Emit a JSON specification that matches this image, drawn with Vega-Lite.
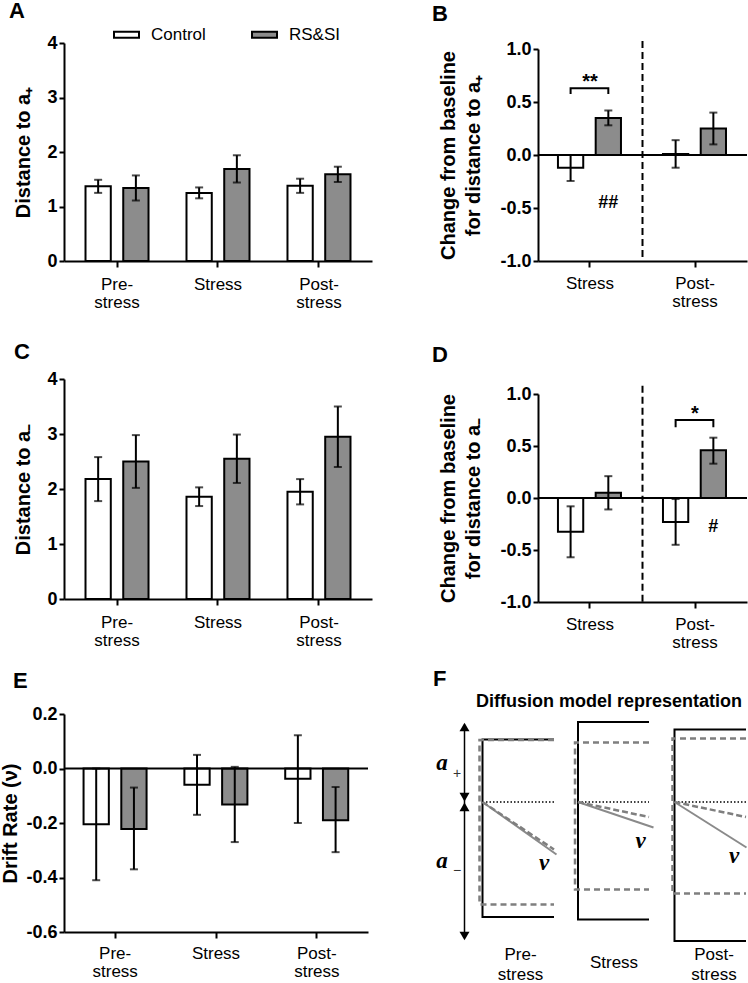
{
  "$schema": "https://vega.github.io/schema/vega-lite/v6.json",
  "padding": {"left": 0, "top": 0, "right": 0, "bottom": 0},
  "background": "white",
  "config": {
    "font": "Liberation Sans",
    "view": {"stroke": null},
    "axis": {"domainColor": "black", "domainWidth": 2, "tickColor": "black", "tickWidth": 2, "labelColor": "black", "titleColor": "black", "labelFont": "Liberation Sans", "titleFont": "Liberation Sans", "grid": false},
    "axisY": {"labelFontSize": 18, "labelFontWeight": "bold", "tickSize": 5, "labelPadding": 2, "titleFontSize": 20, "titleFontWeight": "bold"},
    "axisX": {"labelFontSize": 17, "labelFontWeight": "normal", "tickSize": 6, "labelLineHeight": 18, "labelAngle": 0},
    "title": {"anchor": "start", "frame": "group", "fontSize": 22, "fontWeight": "bold", "color": "black", "font": "Liberation Sans", "baseline": "alphabetic"}
  },
  "datasets": {
    "A": [
      {"cond": "Pre-stress", "group": "Control", "mean": 1.37, "lo": 1.25, "hi": 1.49},
      {"cond": "Pre-stress", "group": "RS&SI", "mean": 1.34, "lo": 1.11, "hi": 1.57},
      {"cond": "Stress", "group": "Control", "mean": 1.25, "lo": 1.15, "hi": 1.35},
      {"cond": "Stress", "group": "RS&SI", "mean": 1.69, "lo": 1.44, "hi": 1.94},
      {"cond": "Post-stress", "group": "Control", "mean": 1.38, "lo": 1.25, "hi": 1.51},
      {"cond": "Post-stress", "group": "RS&SI", "mean": 1.59, "lo": 1.45, "hi": 1.73}
    ],
    "C": [
      {"cond": "Pre-stress", "group": "Control", "mean": 2.18, "lo": 1.78, "hi": 2.58},
      {"cond": "Pre-stress", "group": "RS&SI", "mean": 2.5, "lo": 2.02, "hi": 2.98},
      {"cond": "Stress", "group": "Control", "mean": 1.86, "lo": 1.69, "hi": 2.03},
      {"cond": "Stress", "group": "RS&SI", "mean": 2.55, "lo": 2.11, "hi": 2.99},
      {"cond": "Post-stress", "group": "Control", "mean": 1.95, "lo": 1.72, "hi": 2.18},
      {"cond": "Post-stress", "group": "RS&SI", "mean": 2.95, "lo": 2.4, "hi": 3.5}
    ],
    "E": [
      {"cond": "Pre-stress", "group": "Control", "mean": -0.205, "lo": -0.41, "hi": 0.0},
      {"cond": "Pre-stress", "group": "RS&SI", "mean": -0.222, "lo": -0.37, "hi": -0.07},
      {"cond": "Stress", "group": "Control", "mean": -0.06, "lo": -0.17, "hi": 0.05},
      {"cond": "Stress", "group": "RS&SI", "mean": -0.132, "lo": -0.27, "hi": 0.006},
      {"cond": "Post-stress", "group": "Control", "mean": -0.038, "lo": -0.2, "hi": 0.122},
      {"cond": "Post-stress", "group": "RS&SI", "mean": -0.19, "lo": -0.307, "hi": -0.068}
    ],
    "B": [
      {"cond": "Stress", "group": "Control", "mean": -0.12, "lo": -0.245, "hi": 0.0},
      {"cond": "Stress", "group": "RS&SI", "mean": 0.35, "lo": 0.28, "hi": 0.42},
      {"cond": "Post-stress", "group": "Control", "mean": 0.01, "lo": -0.12, "hi": 0.14},
      {"cond": "Post-stress", "group": "RS&SI", "mean": 0.25, "lo": 0.1, "hi": 0.4}
    ],
    "D": [
      {"cond": "Stress", "group": "Control", "mean": -0.325, "lo": -0.57, "hi": -0.08},
      {"cond": "Stress", "group": "RS&SI", "mean": 0.05, "lo": -0.11, "hi": 0.21},
      {"cond": "Post-stress", "group": "Control", "mean": -0.23, "lo": -0.45, "hi": -0.01},
      {"cond": "Post-stress", "group": "RS&SI", "mean": 0.46, "lo": 0.33, "hi": 0.58}
    ],
    "B_bracket": [
      {"cond": "Stress", "group": "Control", "y": 0.575, "ord": 1},
      {"cond": "Stress", "group": "Control", "y": 0.63, "ord": 2},
      {"cond": "Stress", "group": "RS&SI", "y": 0.63, "ord": 3},
      {"cond": "Stress", "group": "RS&SI", "y": 0.575, "ord": 4}
    ],
    "D_bracket": [
      {"cond": "Post-stress", "group": "Control", "y": 0.68, "ord": 1},
      {"cond": "Post-stress", "group": "Control", "y": 0.75, "ord": 2},
      {"cond": "Post-stress", "group": "RS&SI", "y": 0.75, "ord": 3},
      {"cond": "Post-stress", "group": "RS&SI", "y": 0.68, "ord": 4}
    ],
    "B_star": [{"cond": "Stress", "y": 0.63, "label": "**"}],
    "B_hash": [{"cond": "Stress", "group": "RS&SI", "y": -0.45, "label": "##"}],
    "D_star": [{"cond": "Post-stress", "y": 0.75, "label": "*"}],
    "D_hash": [{"cond": "Post-stress", "group": "RS&SI", "y": -0.28, "label": "#"}],
    "F_lines": [
      {"id": "pre_k", "style": "black", "ord": 1, "x": 0.32, "y": 1.25},
      {"id": "pre_k", "style": "black", "ord": 2, "x": -1.11, "y": 1.25},
      {"id": "pre_k", "style": "black", "ord": 3, "x": -1.11, "y": -2.3},
      {"id": "pre_k", "style": "black", "ord": 4, "x": 0.32, "y": -2.3},
      {"id": "str_k", "style": "black", "ord": 1, "x": 2.22, "y": 1.6},
      {"id": "str_k", "style": "black", "ord": 2, "x": 0.8, "y": 1.6},
      {"id": "str_k", "style": "black", "ord": 3, "x": 0.8, "y": -2.35},
      {"id": "str_k", "style": "black", "ord": 4, "x": 2.22, "y": -2.35},
      {"id": "post_k", "style": "black", "ord": 1, "x": 4.16, "y": 1.45},
      {"id": "post_k", "style": "black", "ord": 2, "x": 2.73, "y": 1.45},
      {"id": "post_k", "style": "black", "ord": 3, "x": 2.73, "y": -2.78},
      {"id": "post_k", "style": "black", "ord": 4, "x": 4.16, "y": -2.78},
      {"id": "pre_g", "style": "graydash", "ord": 1, "x": 0.32, "y": 1.24},
      {"id": "pre_g", "style": "graydash", "ord": 2, "x": -1.17, "y": 1.24},
      {"id": "pre_g", "style": "graydash", "ord": 3, "x": -1.17, "y": -2.05},
      {"id": "pre_g", "style": "graydash", "ord": 4, "x": 0.32, "y": -2.05},
      {"id": "str_g", "style": "graydash", "ord": 1, "x": 2.22, "y": 1.19},
      {"id": "str_g", "style": "graydash", "ord": 2, "x": 0.74, "y": 1.19},
      {"id": "str_g", "style": "graydash", "ord": 3, "x": 0.74, "y": -1.75},
      {"id": "str_g", "style": "graydash", "ord": 4, "x": 2.22, "y": -1.75},
      {"id": "post_g", "style": "graydash", "ord": 1, "x": 4.16, "y": 1.27},
      {"id": "post_g", "style": "graydash", "ord": 2, "x": 2.69, "y": 1.27},
      {"id": "post_g", "style": "graydash", "ord": 3, "x": 2.69, "y": -1.83},
      {"id": "post_g", "style": "graydash", "ord": 4, "x": 4.16, "y": -1.83},
      {"id": "pre_d", "style": "dotted", "ord": 1, "x": -1.11, "y": 0},
      {"id": "pre_d", "style": "dotted", "ord": 2, "x": 0.32, "y": 0},
      {"id": "str_d", "style": "dotted", "ord": 1, "x": 0.8, "y": 0},
      {"id": "str_d", "style": "dotted", "ord": 2, "x": 2.22, "y": 0},
      {"id": "post_d", "style": "dotted", "ord": 1, "x": 2.73, "y": 0},
      {"id": "post_d", "style": "dotted", "ord": 2, "x": 4.16, "y": 0},
      {"id": "pre_s", "style": "graysolid", "ord": 1, "x": -1.11, "y": 0},
      {"id": "pre_s", "style": "graysolid", "ord": 2, "x": 0.37, "y": -1.05},
      {"id": "str_s", "style": "graysolid", "ord": 1, "x": 0.8, "y": 0},
      {"id": "str_s", "style": "graysolid", "ord": 2, "x": 2.31, "y": -0.51},
      {"id": "post_s", "style": "graysolid", "ord": 1, "x": 2.73, "y": 0},
      {"id": "post_s", "style": "graysolid", "ord": 2, "x": 4.17, "y": -0.91},
      {"id": "pre_v", "style": "driftdash", "ord": 1, "x": -1.11, "y": 0},
      {"id": "pre_v", "style": "driftdash", "ord": 2, "x": 0.32, "y": -0.95},
      {"id": "str_v", "style": "driftdash", "ord": 1, "x": 0.8, "y": 0},
      {"id": "str_v", "style": "driftdash", "ord": 2, "x": 2.22, "y": -0.3},
      {"id": "post_v", "style": "driftdash", "ord": 1, "x": 2.73, "y": 0},
      {"id": "post_v", "style": "driftdash", "ord": 2, "x": 4.16, "y": -0.3},
      {"id": "arrow", "style": "arrow", "ord": 1, "x": -1.47, "y": 1.55},
      {"id": "arrow", "style": "arrow", "ord": 2, "x": -1.47, "y": -2.72}
    ],
    "F_heads": [
      {"x": -1.47, "y": 1.5, "shape": "triangle-up"},
      {"x": -1.47, "y": 0.096, "shape": "triangle-down"},
      {"x": -1.47, "y": -0.096, "shape": "triangle-up"},
      {"x": -1.47, "y": -2.68, "shape": "triangle-down"}
    ],
    "F_text": [
      {"kind": "serif", "x": -1.92, "y": 0.78, "label": "a"},
      {"kind": "serif", "x": -1.92, "y": -1.18, "label": "a"},
      {"kind": "sign", "x": -1.62, "y": 0.56, "label": "+"},
      {"kind": "sign", "x": -1.62, "y": -1.38, "label": "\u2212"},
      {"kind": "serif", "x": 0.12, "y": -1.21, "label": "v"},
      {"kind": "serif", "x": 2.05, "y": -0.77, "label": "v"},
      {"kind": "serif", "x": 3.92, "y": -1.08, "label": "v"},
      {"kind": "title", "x": 1.42, "y": 2.0, "label": "Diffusion model representation"},
      {"kind": "cat", "x": -0.35, "y": -3.05, "label": "Pre-\nstress"},
      {"kind": "cat", "x": 1.52, "y": -3.22, "label": "Stress"},
      {"kind": "cat", "x": 3.52, "y": -3.05, "label": "Post-\nstress"}
    ],
    "zero": [{"v": 0}],
    "divB": [{"pos": 1, "top": 1.075, "bot": -1}],
    "divD": [{"pos": 1, "top": 1.08, "bot": -1}]
  },
  "columns": 2,
  "bounds": "flush",
  "align": "each",
  "spacing": {"row": 115, "column": 166},
  "resolve": {"scale": {"fill": "independent"}, "legend": {"fill": "independent"}},
  "concat": [
    {
      "width": 308, "height": 218,
      "title": {"text": "A", "dx": -55, "offset": -2},
      "data": {"name": "A"},
      "layer": [
        {
          "mark": {"type": "bar", "stroke": "black", "strokeWidth": 2},
          "encoding": {
            "x": {"field": "cond", "type": "nominal", "sort": ["Pre-stress", "Stress", "Post-stress"], "scale": {"paddingInner": 0.376, "paddingOuter": 0.213}, "axis": {"title": null, "labelBaseline": "middle", "labelPadding": 17, "labelExpr": "datum.value == 'Stress' ? 'Stress' : [slice(datum.value, 0, indexof(datum.value, '-') + 1), slice(datum.value, indexof(datum.value, '-') + 1)]"}},
            "xOffset": {"field": "group", "type": "nominal", "sort": ["Control", "RS&SI"], "scale": {"paddingInner": 0.33, "paddingOuter": 0}},
            "y": {"field": "mean", "type": "quantitative", "scale": {"domain": [0, 4], "nice": false}, "axis": {"title": "Distance to a\u208A", "values": [0, 1, 2, 3, 4], "format": "d", "titlePadding": 13}},
            "fill": {"field": "group", "type": "nominal", "scale": {"domain": ["Control", "RS&SI"], "range": ["white", "#8c8c8c"]},
              "legend": {"orient": "none", "legendX": 49, "legendY": -22, "direction": "horizontal", "title": null, "symbolType": "M-1,-0.24H1V0.24H-1Z", "symbolSize": 625, "symbolStrokeColor": "black", "symbolStrokeWidth": 2, "labelFontSize": 17, "labelFont": "Liberation Sans", "labelColor": "black", "labelOffset": 11, "columnPadding": 42}}
          }
        },
        {
          "mark": {"type": "rule", "strokeWidth": 2, "color": "black"},
          "encoding": {
            "x": {"field": "cond", "type": "nominal", "sort": ["Pre-stress", "Stress", "Post-stress"]},
            "xOffset": {"field": "group", "type": "nominal", "sort": ["Control", "RS&SI"]},
            "y": {"field": "lo", "type": "quantitative"},
            "y2": {"field": "hi"}
          }
        },
        {
          "mark": {"type": "tick", "orient": "horizontal", "size": 8, "thickness": 2, "color": "black"},
          "encoding": {
            "x": {"field": "cond", "type": "nominal", "sort": ["Pre-stress", "Stress", "Post-stress"]},
            "xOffset": {"field": "group", "type": "nominal", "sort": ["Control", "RS&SI"]},
            "y": {"field": "lo", "type": "quantitative"}
          }
        },
        {
          "mark": {"type": "tick", "orient": "horizontal", "size": 8, "thickness": 2, "color": "black"},
          "encoding": {
            "x": {"field": "cond", "type": "nominal", "sort": ["Pre-stress", "Stress", "Post-stress"]},
            "xOffset": {"field": "group", "type": "nominal", "sort": ["Control", "RS&SI"]},
            "y": {"field": "hi", "type": "quantitative"}
          }
        }
      ]
    },
    {
      "width": 209, "height": 218,
      "title": {"text": "B", "dx": -106, "offset": 14},
      "resolve": {"scale": {"x": "independent"}},
      "layer": [
        {
          "layer": [
            {
              "data": {"name": "B"},
              "mark": {"type": "bar", "stroke": "black", "strokeWidth": 2},
              "encoding": {
                "x": {"field": "cond", "type": "nominal", "sort": ["Stress", "Post-stress"], "scale": {"paddingInner": 0.39, "paddingOuter": 0.19}, "axis": {"title": null, "labelBaseline": "top", "labelPadding": 8, "labelLineHeight": 18, "labelExpr": "datum.value == 'Stress' ? 'Stress' : [slice(datum.value, 0, indexof(datum.value, '-') + 1), slice(datum.value, indexof(datum.value, '-') + 1)]"}},
                "xOffset": {"field": "group", "type": "nominal", "sort": ["Control", "RS&SI"], "scale": {"paddingInner": 0.32, "paddingOuter": 0}},
                "y": {"field": "mean", "type": "quantitative", "scale": {"domain": [-1, 1], "nice": false, "range": [218, 6]}, "axis": {"title": ["Change from baseline", "for distance to a\u208A"], "titleLineHeight": 25, "values": [-1, -0.5, 0, 0.5, 1], "labelExpr": "replace(format(datum.value, '.1f'), '\u2212', '-')", "titlePadding": 16}},
                "fill": {"field": "group", "type": "nominal", "scale": {"domain": ["Control", "RS&SI"], "range": ["white", "#8c8c8c"]}, "legend": null}
              }
            },
            {
              "data": {"name": "zero"},
              "mark": {"type": "rule", "strokeWidth": 2, "color": "black"},
              "encoding": {"y": {"field": "v", "type": "quantitative"}}
            },
            {
              "data": {"name": "B"},
              "mark": {"type": "rule", "strokeWidth": 2, "color": "black"},
              "encoding": {
                "x": {"field": "cond", "type": "nominal", "sort": ["Stress", "Post-stress"]},
                "xOffset": {"field": "group", "type": "nominal", "sort": ["Control", "RS&SI"]},
                "y": {"field": "lo", "type": "quantitative"},
                "y2": {"field": "hi"}
              }
            },
            {
              "data": {"name": "B"},
              "mark": {"type": "tick", "orient": "horizontal", "size": 8, "thickness": 2, "color": "black"},
              "encoding": {
                "x": {"field": "cond", "type": "nominal", "sort": ["Stress", "Post-stress"]},
                "xOffset": {"field": "group", "type": "nominal", "sort": ["Control", "RS&SI"]},
                "y": {"field": "lo", "type": "quantitative"}
              }
            },
            {
              "data": {"name": "B"},
              "mark": {"type": "tick", "orient": "horizontal", "size": 8, "thickness": 2, "color": "black"},
              "encoding": {
                "x": {"field": "cond", "type": "nominal", "sort": ["Stress", "Post-stress"]},
                "xOffset": {"field": "group", "type": "nominal", "sort": ["Control", "RS&SI"]},
                "y": {"field": "hi", "type": "quantitative"}
              }
            },
            {
              "data": {"name": "B_bracket"},
              "mark": {"type": "line", "strokeWidth": 2, "color": "black"},
              "encoding": {
                "x": {"field": "cond", "type": "nominal", "sort": ["Stress", "Post-stress"]},
                "xOffset": {"field": "group", "type": "nominal", "sort": ["Control", "RS&SI"]},
                "y": {"field": "y", "type": "quantitative"},
                "order": {"field": "ord"}
              }
            },
            {
              "data": {"name": "B_star"},
              "mark": {"type": "text", "fontSize": 20, "fontWeight": "bold", "baseline": "alphabetic", "font": "Liberation Sans"},
              "encoding": {
                "x": {"field": "cond", "type": "nominal", "sort": ["Stress", "Post-stress"]},
                "y": {"field": "y", "type": "quantitative"},
                "text": {"field": "label"}
              }
            },
            {
              "data": {"name": "B_hash"},
              "mark": {"type": "text", "fontSize": 18, "fontWeight": "bold", "baseline": "middle", "font": "Liberation Sans"},
              "encoding": {
                "x": {"field": "cond", "type": "nominal", "sort": ["Stress", "Post-stress"]},
                "xOffset": {"field": "group", "type": "nominal", "sort": ["Control", "RS&SI"]},
                "y": {"field": "y", "type": "quantitative"},
                "text": {"field": "label"}
              }
            }
          ]
        },
        {
          "data": {"name": "divB"},
          "mark": {"type": "rule", "strokeWidth": 2, "strokeDash": [7, 4], "color": "black"},
          "encoding": {
            "x": {"field": "pos", "type": "quantitative", "scale": {"domain": [0, 2], "nice": false}, "axis": null},
            "y": {"field": "top", "type": "quantitative"},
            "y2": {"field": "bot"}
          }
        }
      ]
    },
    {
      "width": 308, "height": 223,
      "title": {"text": "C", "dx": -50, "offset": 6},
      "data": {"name": "C"},
      "layer": [
        {
          "mark": {"type": "bar", "stroke": "black", "strokeWidth": 2},
          "encoding": {
            "x": {"field": "cond", "type": "nominal", "sort": ["Pre-stress", "Stress", "Post-stress"], "scale": {"paddingInner": 0.376, "paddingOuter": 0.213}, "axis": {"title": null, "labelBaseline": "middle", "labelPadding": 17, "labelExpr": "datum.value == 'Stress' ? 'Stress' : [slice(datum.value, 0, indexof(datum.value, '-') + 1), slice(datum.value, indexof(datum.value, '-') + 1)]"}},
            "xOffset": {"field": "group", "type": "nominal", "sort": ["Control", "RS&SI"], "scale": {"paddingInner": 0.33, "paddingOuter": 0}},
            "y": {"field": "mean", "type": "quantitative", "scale": {"domain": [0, 4], "nice": false, "range": [223, 3]}, "axis": {"title": "Distance to a\u208B", "values": [0, 1, 2, 3, 4], "format": "d", "titlePadding": 13}},
            "fill": {"field": "group", "type": "nominal", "scale": {"domain": ["Control", "RS&SI"], "range": ["white", "#8c8c8c"]}, "legend": null}
          }
        },
        {
          "mark": {"type": "rule", "strokeWidth": 2, "color": "black"},
          "encoding": {
            "x": {"field": "cond", "type": "nominal", "sort": ["Pre-stress", "Stress", "Post-stress"]},
            "xOffset": {"field": "group", "type": "nominal", "sort": ["Control", "RS&SI"]},
            "y": {"field": "lo", "type": "quantitative"},
            "y2": {"field": "hi"}
          }
        },
        {
          "mark": {"type": "tick", "orient": "horizontal", "size": 8, "thickness": 2, "color": "black"},
          "encoding": {
            "x": {"field": "cond", "type": "nominal", "sort": ["Pre-stress", "Stress", "Post-stress"]},
            "xOffset": {"field": "group", "type": "nominal", "sort": ["Control", "RS&SI"]},
            "y": {"field": "lo", "type": "quantitative"}
          }
        },
        {
          "mark": {"type": "tick", "orient": "horizontal", "size": 8, "thickness": 2, "color": "black"},
          "encoding": {
            "x": {"field": "cond", "type": "nominal", "sort": ["Pre-stress", "Stress", "Post-stress"]},
            "xOffset": {"field": "group", "type": "nominal", "sort": ["Control", "RS&SI"]},
            "y": {"field": "hi", "type": "quantitative"}
          }
        }
      ]
    },
    {
      "width": 209, "height": 226,
      "title": {"text": "D", "dx": -106, "offset": 9},
      "resolve": {"scale": {"x": "independent"}},
      "layer": [
        {
          "layer": [
            {
              "data": {"name": "D"},
              "mark": {"type": "bar", "stroke": "black", "strokeWidth": 2},
              "encoding": {
                "x": {"field": "cond", "type": "nominal", "sort": ["Stress", "Post-stress"], "scale": {"paddingInner": 0.39, "paddingOuter": 0.19}, "axis": {"title": null, "labelBaseline": "top", "labelPadding": 8, "labelLineHeight": 18, "labelExpr": "datum.value == 'Stress' ? 'Stress' : [slice(datum.value, 0, indexof(datum.value, '-') + 1), slice(datum.value, indexof(datum.value, '-') + 1)]"}},
                "xOffset": {"field": "group", "type": "nominal", "sort": ["Control", "RS&SI"], "scale": {"paddingInner": 0.32, "paddingOuter": 0}},
                "y": {"field": "mean", "type": "quantitative", "scale": {"domain": [-1, 1], "nice": false, "range": [226, 18]}, "axis": {"title": ["Change from baseline", "for distance to a\u208B"], "titleLineHeight": 25, "values": [-1, -0.5, 0, 0.5, 1], "labelExpr": "replace(format(datum.value, '.1f'), '\u2212', '-')", "titlePadding": 16}},
                "fill": {"field": "group", "type": "nominal", "scale": {"domain": ["Control", "RS&SI"], "range": ["white", "#8c8c8c"]}, "legend": null}
              }
            },
            {
              "data": {"name": "zero"},
              "mark": {"type": "rule", "strokeWidth": 2, "color": "black"},
              "encoding": {"y": {"field": "v", "type": "quantitative"}}
            },
            {
              "data": {"name": "D"},
              "mark": {"type": "rule", "strokeWidth": 2, "color": "black"},
              "encoding": {
                "x": {"field": "cond", "type": "nominal", "sort": ["Stress", "Post-stress"]},
                "xOffset": {"field": "group", "type": "nominal", "sort": ["Control", "RS&SI"]},
                "y": {"field": "lo", "type": "quantitative"},
                "y2": {"field": "hi"}
              }
            },
            {
              "data": {"name": "D"},
              "mark": {"type": "tick", "orient": "horizontal", "size": 8, "thickness": 2, "color": "black"},
              "encoding": {
                "x": {"field": "cond", "type": "nominal", "sort": ["Stress", "Post-stress"]},
                "xOffset": {"field": "group", "type": "nominal", "sort": ["Control", "RS&SI"]},
                "y": {"field": "lo", "type": "quantitative"}
              }
            },
            {
              "data": {"name": "D"},
              "mark": {"type": "tick", "orient": "horizontal", "size": 8, "thickness": 2, "color": "black"},
              "encoding": {
                "x": {"field": "cond", "type": "nominal", "sort": ["Stress", "Post-stress"]},
                "xOffset": {"field": "group", "type": "nominal", "sort": ["Control", "RS&SI"]},
                "y": {"field": "hi", "type": "quantitative"}
              }
            },
            {
              "data": {"name": "D_bracket"},
              "mark": {"type": "line", "strokeWidth": 2, "color": "black"},
              "encoding": {
                "x": {"field": "cond", "type": "nominal", "sort": ["Stress", "Post-stress"]},
                "xOffset": {"field": "group", "type": "nominal", "sort": ["Control", "RS&SI"]},
                "y": {"field": "y", "type": "quantitative"},
                "order": {"field": "ord"}
              }
            },
            {
              "data": {"name": "D_star"},
              "mark": {"type": "text", "fontSize": 20, "fontWeight": "bold", "baseline": "alphabetic", "font": "Liberation Sans"},
              "encoding": {
                "x": {"field": "cond", "type": "nominal", "sort": ["Stress", "Post-stress"]},
                "y": {"field": "y", "type": "quantitative"},
                "text": {"field": "label"}
              }
            },
            {
              "data": {"name": "D_hash"},
              "mark": {"type": "text", "fontSize": 18, "fontWeight": "bold", "baseline": "middle", "font": "Liberation Sans"},
              "encoding": {
                "x": {"field": "cond", "type": "nominal", "sort": ["Stress", "Post-stress"]},
                "xOffset": {"field": "group", "type": "nominal", "sort": ["Control", "RS&SI"]},
                "y": {"field": "y", "type": "quantitative"},
                "text": {"field": "label"}
              }
            }
          ]
        },
        {
          "data": {"name": "divD"},
          "mark": {"type": "rule", "strokeWidth": 2, "strokeDash": [7, 4], "color": "black"},
          "encoding": {
            "x": {"field": "pos", "type": "quantitative", "scale": {"domain": [0, 2], "nice": false}, "axis": null},
            "y": {"field": "top", "type": "quantitative"},
            "y2": {"field": "bot"}
          }
        }
      ]
    },
    {
      "width": 304, "height": 215,
      "title": {"text": "E", "dx": -51, "offset": 12},
      "layer": [
        {
          "data": {"name": "E"},
          "mark": {"type": "bar", "stroke": "black", "strokeWidth": 2},
          "encoding": {
            "x": {"field": "cond", "type": "nominal", "sort": ["Pre-stress", "Stress", "Post-stress"], "scale": {"paddingInner": 0.373, "paddingOuter": 0.194}, "axis": {"title": null, "labelBaseline": "middle", "labelPadding": 15, "labelExpr": "datum.value == 'Stress' ? 'Stress' : [slice(datum.value, 0, indexof(datum.value, '-') + 1), slice(datum.value, indexof(datum.value, '-') + 1)]"}},
            "xOffset": {"field": "group", "type": "nominal", "sort": ["Control", "RS&SI"], "scale": {"paddingInner": 0.33, "paddingOuter": 0}},
            "y": {"field": "mean", "type": "quantitative", "scale": {"domain": [-0.6, 0.2], "nice": false, "range": [215, -3]}, "axis": {"title": "Drift Rate (\u03BD)", "values": [-0.6, -0.4, -0.2, 0, 0.2], "labelExpr": "replace(format(datum.value, '.1f'), '\u2212', '-')", "titlePadding": 5}},
            "fill": {"field": "group", "type": "nominal", "scale": {"domain": ["Control", "RS&SI"], "range": ["white", "#8c8c8c"]}, "legend": null}
          }
        },
        {
          "data": {"name": "zero"},
          "mark": {"type": "rule", "strokeWidth": 2, "color": "black"},
          "encoding": {"y": {"field": "v", "type": "quantitative"}}
        },
        {
          "data": {"name": "E"},
          "mark": {"type": "rule", "strokeWidth": 2, "color": "black"},
          "encoding": {
            "x": {"field": "cond", "type": "nominal", "sort": ["Pre-stress", "Stress", "Post-stress"]},
            "xOffset": {"field": "group", "type": "nominal", "sort": ["Control", "RS&SI"]},
            "y": {"field": "lo", "type": "quantitative"},
            "y2": {"field": "hi"}
          }
        },
        {
          "data": {"name": "E"},
          "mark": {"type": "tick", "orient": "horizontal", "size": 8, "thickness": 2, "color": "black"},
          "encoding": {
            "x": {"field": "cond", "type": "nominal", "sort": ["Pre-stress", "Stress", "Post-stress"]},
            "xOffset": {"field": "group", "type": "nominal", "sort": ["Control", "RS&SI"]},
            "y": {"field": "lo", "type": "quantitative"}
          }
        },
        {
          "data": {"name": "E"},
          "mark": {"type": "tick", "orient": "horizontal", "size": 8, "thickness": 2, "color": "black"},
          "encoding": {
            "x": {"field": "cond", "type": "nominal", "sort": ["Pre-stress", "Stress", "Post-stress"]},
            "xOffset": {"field": "group", "type": "nominal", "sort": ["Control", "RS&SI"]},
            "y": {"field": "hi", "type": "quantitative"}
          }
        }
      ]
    },
    {
      "width": 209, "height": 215,
      "title": {"text": "F", "dx": -105, "offset": 2},
      "layer": [
        {
          "data": {"name": "F_lines"},
          "transform": [{"filter": "datum.style == 'black'"}],
          "mark": {"type": "line", "strokeWidth": 2, "color": "black"},
          "encoding": {
            "x": {"field": "x", "type": "quantitative", "scale": {"domain": [0, 4.18], "nice": false, "zero": false}, "axis": null},
            "y": {"field": "y", "type": "quantitative", "scale": {"domain": [-2.6, 1.7], "nice": false, "zero": false}, "axis": null},
            "detail": {"field": "id"},
            "order": {"field": "ord"}
          }
        },
        {
          "data": {"name": "F_lines"},
          "transform": [{"filter": "datum.style == 'graydash'"}],
          "mark": {"type": "line", "strokeWidth": 2.5, "color": "#7f7f7f", "strokeDash": [6, 4]},
          "encoding": {
            "x": {"field": "x", "type": "quantitative", "axis": null},
            "y": {"field": "y", "type": "quantitative", "axis": null},
            "detail": {"field": "id"},
            "order": {"field": "ord"}
          }
        },
        {
          "data": {"name": "F_lines"},
          "transform": [{"filter": "datum.style == 'dotted'"}],
          "mark": {"type": "line", "strokeWidth": 1.5, "color": "black", "strokeDash": [1.5, 2]},
          "encoding": {
            "x": {"field": "x", "type": "quantitative", "axis": null},
            "y": {"field": "y", "type": "quantitative", "axis": null},
            "detail": {"field": "id"},
            "order": {"field": "ord"}
          }
        },
        {
          "data": {"name": "F_lines"},
          "transform": [{"filter": "datum.style == 'graysolid'"}],
          "mark": {"type": "line", "strokeWidth": 2, "color": "#8a8a8a"},
          "encoding": {
            "x": {"field": "x", "type": "quantitative", "axis": null},
            "y": {"field": "y", "type": "quantitative", "axis": null},
            "detail": {"field": "id"},
            "order": {"field": "ord"}
          }
        },
        {
          "data": {"name": "F_lines"},
          "transform": [{"filter": "datum.style == 'driftdash'"}],
          "mark": {"type": "line", "strokeWidth": 2.5, "color": "#7f7f7f", "strokeDash": [6, 3]},
          "encoding": {
            "x": {"field": "x", "type": "quantitative", "axis": null},
            "y": {"field": "y", "type": "quantitative", "axis": null},
            "detail": {"field": "id"},
            "order": {"field": "ord"}
          }
        },
        {
          "data": {"name": "F_lines"},
          "transform": [{"filter": "datum.style == 'arrow'"}],
          "mark": {"type": "line", "strokeWidth": 1.5, "color": "black"},
          "encoding": {
            "x": {"field": "x", "type": "quantitative", "axis": null},
            "y": {"field": "y", "type": "quantitative", "axis": null},
            "detail": {"field": "id"},
            "order": {"field": "ord"}
          }
        },
        {
          "data": {"name": "F_heads"},
          "mark": {"type": "point", "filled": true, "color": "black", "size": 100, "opacity": 1},
          "encoding": {
            "x": {"field": "x", "type": "quantitative", "axis": null},
            "y": {"field": "y", "type": "quantitative", "axis": null},
            "shape": {"field": "shape", "type": "nominal", "scale": null}
          }
        },
        {
          "data": {"name": "F_text"},
          "transform": [{"filter": "datum.kind == 'serif'"}],
          "mark": {"type": "text", "font": "Liberation Serif", "fontSize": 23, "fontWeight": "bold", "fontStyle": "italic", "baseline": "middle", "color": "black"},
          "encoding": {
            "x": {"field": "x", "type": "quantitative", "axis": null},
            "y": {"field": "y", "type": "quantitative", "axis": null},
            "text": {"field": "label"}
          }
        },
        {
          "data": {"name": "F_text"},
          "transform": [{"filter": "datum.kind == 'sign'"}],
          "mark": {"type": "text", "font": "Liberation Sans", "fontSize": 14, "baseline": "middle", "color": "#333333"},
          "encoding": {
            "x": {"field": "x", "type": "quantitative", "axis": null},
            "y": {"field": "y", "type": "quantitative", "axis": null},
            "text": {"field": "label"}
          }
        },
        {
          "data": {"name": "F_text"},
          "transform": [{"filter": "datum.kind == 'title'"}],
          "mark": {"type": "text", "font": "Liberation Sans", "fontSize": 18, "fontWeight": "bold", "baseline": "middle", "color": "black"},
          "encoding": {
            "x": {"field": "x", "type": "quantitative", "axis": null},
            "y": {"field": "y", "type": "quantitative", "axis": null},
            "text": {"field": "label"}
          }
        },
        {
          "data": {"name": "F_text"},
          "transform": [{"filter": "datum.kind == 'cat'"}],
          "mark": {"type": "text", "font": "Liberation Sans", "fontSize": 17, "baseline": "middle", "lineBreak": "\n", "lineHeight": 20, "color": "black"},
          "encoding": {
            "x": {"field": "x", "type": "quantitative", "axis": null},
            "y": {"field": "y", "type": "quantitative", "axis": null},
            "text": {"field": "label"}
          }
        }
      ]
    }
  ]
}
